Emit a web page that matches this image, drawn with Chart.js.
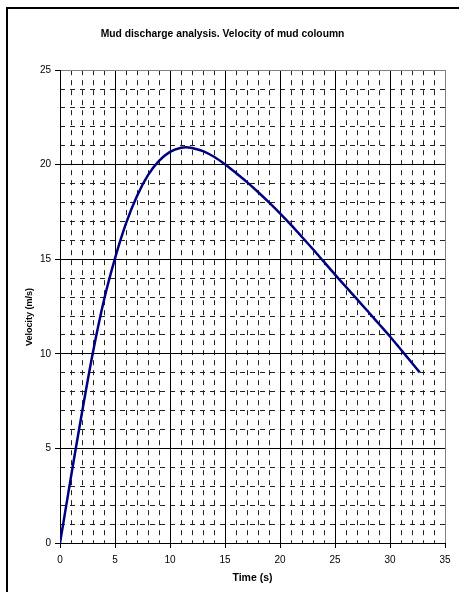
<!DOCTYPE html>
<html>
<head>
<meta charset="utf-8">
<script src="https://cdn.jsdelivr.net/npm/chart.js@4"></script>
<style>
  html, body { margin: 0; padding: 0; background: #fff; overflow: hidden; }
  #wrap { position: relative; width: 459px; height: 592px; }
</style>
</head>
<body>
<div id="wrap"><canvas id="chart" width="459" height="592"></canvas></div>
<script>
// time (s) and velocity (m/s)
const tempos = [0, 0.5, 1, 1.5, 2, 3, 4, 5, 6, 7, 8, 9, 10, 11, 11.5, 12, 13, 14, 15, 16, 17,
  18, 19, 20, 21, 22, 23, 24, 25, 26, 27, 28, 29, 30, 31, 32, 32.7];
const velocidades = [0, 1.75, 3.5, 5.22, 6.9, 10.1, 12.85, 15.05, 16.9, 18.35, 19.45, 20.2, 20.68, 20.9, 20.93,
  20.88, 20.72, 20.42, 20.02, 19.56, 19.08, 18.56, 18.01, 17.43, 16.82, 16.18, 15.53, 14.86, 14.19,
  13.54, 12.89, 12.24, 11.58, 10.92, 10.22, 9.52, 9.02];

const titulo = "Mud discharge analysis. Velocity of mud coloumn";
const tituloX = "Time (s)";
const tituloY = "Velocity (m/s)";
const xMin = 0, xMax = 35, xPasso = 5;
const yMin = 0, yMax = 25, yPasso = 5;

const fonte = "'Liberation Sans', Arial, sans-serif";

const pontos = tempos.map((t, i) => ({ x: t, y: velocidades[i] }));

// outer frame + rotated y axis title
const moldura = {
  id: "moldura",
  beforeDraw(chart) {
    const ctx = chart.ctx;
    ctx.save();
    ctx.fillStyle = "#fff";
    ctx.fillRect(0, 0, chart.width, chart.height);
    ctx.strokeStyle = "#000";
    ctx.lineWidth = 2;
    ctx.strokeRect(7, 8, 600, 700);
    ctx.restore();
  },
  afterDraw(chart) {
    const ctx = chart.ctx;
    ctx.save();
    ctx.translate(30, 317);
    ctx.rotate(-Math.PI / 2);
    ctx.font = "bold 9px " + fonte;
    ctx.fillStyle = "#000";
    ctx.textAlign = "center";
    ctx.textBaseline = "middle";
    ctx.fillText(tituloY, 0, 0);
    ctx.restore();
  }
};

new Chart(document.getElementById("chart"), {
  type: "line",
  data: {
    datasets: [{
      data: pontos,
      borderColor: "#000080",
      borderWidth: 2.5,
      pointRadius: 0,
      fill: false,
      cubicInterpolationMode: "monotone"
    }]
  },
  options: {
    responsive: false,
    animation: false,
    layout: { padding: { left: 0, right: 14, top: 0, bottom: 0 } },
    plugins: {
      legend: { display: false },
      tooltip: { enabled: false },
      title: {
        display: true,
        text: titulo,
        color: "#000",
        font: { family: fonte, size: 10.3, weight: "bold" },
        padding: { top: 28, bottom: 29.8 }
      }
    },
    scales: {
      xm: {
        type: "linear", position: "bottom", min: xMin, max: xMax, z: -1,
        ticks: { display: false, stepSize: 1 },
        grid: { color: "#222", lineWidth: 1, drawTicks: false },
        border: { display: false, dash: [5, 5] },
        afterFit: s => { s.height = 0; }
      },
      ym: {
        type: "linear", position: "left", min: yMin, max: yMax, z: -1,
        ticks: { display: false, stepSize: 1 },
        grid: { color: "#222", lineWidth: 1, drawTicks: false },
        border: { display: false, dash: [5, 5] },
        afterFit: s => { s.width = 0; }
      },
      x: {
        type: "linear", position: "bottom", min: xMin, max: xMax,
        ticks: { stepSize: xPasso, color: "#000", padding: 6, maxRotation: 0,
          font: { family: fonte, size: 10 } },
        grid: {
          color: c => (c.tick && c.tick.value === xMax ? "#808080" : "#000"),
          tickColor: "#000", tickLength: 5, lineWidth: 1
        },
        border: { display: true, color: "#000", width: 1 },
        title: { display: true, text: tituloX, color: "#000",
          font: { family: fonte, size: 10.5, weight: "bold" },
          padding: { top: 0, bottom: 8 } },
        afterFit: s => { s.height = 49; }
      },
      y: {
        type: "linear", position: "left", min: yMin, max: yMax,
        ticks: { stepSize: yPasso, color: "#000", padding: 4,
          font: { family: fonte, size: 10 } },
        grid: {
          color: c => (c.tick && c.tick.value === yMax ? "#808080" : "#000"),
          tickColor: "#000", tickLength: 5, lineWidth: 1
        },
        border: { display: true, color: "#000", width: 1 },
        afterFit: s => { s.width = 60; }
      }
    }
  },
  plugins: [moldura]
});
</script>
</body>
</html>
